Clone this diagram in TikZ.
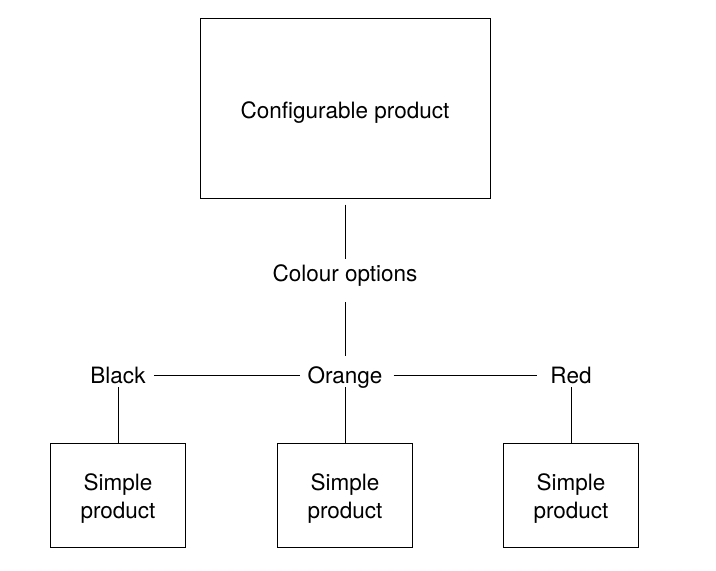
\documentclass[tikz,border=0pt]{standalone}
\usepackage{fontspec}
\setmainfont{TeX Gyre Heros}
\usepackage{tikz}
\usetikzlibrary{positioning}
\tikzset{
  node-box/.style={draw,line width=1pt,inner sep=0pt,align=center,
    minimum width=135pt,minimum height=104pt,text height=46pt,text depth=0pt},
  node-big/.style={node-box,minimum width=290pt,minimum height=180pt,
    text height=20pt},
  node-label/.style={inner sep=0pt,text height=18pt,text depth=2pt},
  link/.style={line width=1pt},
}

\begin{document}
\begin{tikzpicture}[x=1pt,y=-1pt,font=\fontsize{22.5}{28}\selectfont]
  \useasboundingbox (0,0) rectangle (716,571);
  \node[node-big] (cfg) at (345,108) {Configurable product};
  \node[node-label] (opts) at (345,273) {Colour options};
  \node[node-label] (orange) at (345,375) {Orange};
  \node[node-label] (black) at (118,375) {Black};
  \node[node-label] (red) at (571,375) {Red};
  \node[node-box] (sp-black) at (118,495) {Simple\\product};
  \node[node-box] (sp-orange) at (345,495) {Simple\\product};
  \node[node-box] (sp-red) at (571,495) {Simple\\product};
  \draw[link,shorten <=6pt,shorten >=4pt] (cfg) -- (opts);
  \draw[link,shorten <=19pt,shorten >=9pt] (opts) -- (orange);
  \draw[link,shorten <=8pt,shorten >=7pt] (black) -- (orange);
  \draw[link,shorten <=11pt,shorten >=13pt] (orange) -- (red);
  \draw[link,shorten <=2pt] (black) -- (sp-black);
  \draw[link,shorten <=2pt] (orange) -- (sp-orange);
  \draw[link,shorten <=2pt] (red) -- (sp-red);
\end{tikzpicture}
\end{document}
